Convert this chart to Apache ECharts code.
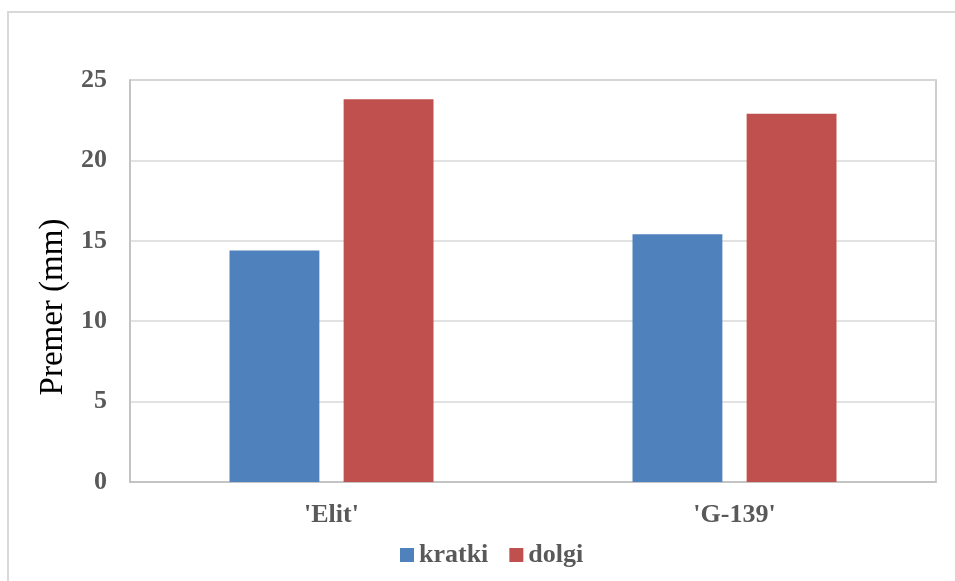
<!DOCTYPE html>
<html>
<head>
<meta charset="utf-8">
<script src="https://cdn.jsdelivr.net/npm/echarts@6/dist/echarts.min.js"></script>
<style>
  html, body { margin: 0; padding: 0; background: #fff; }
  #chart { width: 955px; height: 581px; }
</style>
</head>
<body>
<div id="chart"></div>
<script>
// Stem diameter by cultivar for short and long stems
const categories = ["'Elit'", "'G-139'"];
const seriesNames = ['kratki', 'dolgi'];
const kratki = [14.4, 15.4];
const dolgi = [23.8, 22.9];
const yTicks = { min: 0, max: 25, interval: 5 };
const yTitle = 'Premer (mm)';

const serif = '"Liberation Serif", "Times New Roman", serif';
const labelColor = '#595959';

const chart = echarts.init(document.getElementById('chart'), null, { renderer: 'canvas' });

chart.setOption({
  animation: false,
  backgroundColor: '#ffffff',
  graphic: [
    {
      type: 'rect',
      shape: { x: 8, y: 12, width: 960, height: 600 },
      style: { fill: 'none', stroke: '#d9d9d9', lineWidth: 2 },
      silent: true,
      z: -1
    },
    {
      // vertical axis title
      type: 'text',
      x: 53, y: 307,
      rotation: Math.PI / 2,
      style: {
        text: yTitle,
        fontFamily: serif, fontSize: 33, fill: '#000000',
        textAlign: 'center', textVerticalAlign: 'middle'
      },
      silent: true
    }
  ],
  grid: {
    left: 130, right: 19, top: 80, bottom: 99,
    show: true,
    borderColor: '#bfbfbf',
    borderWidth: 1.5,
    containLabel: false
  },
  legend: {
    data: seriesNames,
    top: 537,
    left: 395,
    itemWidth: 14,
    itemHeight: 14,
    itemGap: 21,
    icon: 'rect',
    textStyle: { fontFamily: serif, fontWeight: 'bold', fontSize: 26, color: labelColor }
  },
  xAxis: {
    type: 'category',
    data: categories,
    axisLine: { show: true, lineStyle: { color: '#bfbfbf', width: 1.5 } },
    axisTick: { show: false },
    axisLabel: { fontFamily: serif, fontWeight: 'bold', fontSize: 26, color: labelColor, margin: 20 }
  },
  yAxis: {
    type: 'value',
    min: yTicks.min, max: yTicks.max, interval: yTicks.interval,
    axisLine: { show: true, lineStyle: { color: '#bfbfbf', width: 1.5 } },
    axisTick: { show: false },
    splitLine: { lineStyle: { color: '#d9d9d9', width: 1.5 } },
    axisLabel: { fontFamily: serif, fontWeight: 'bold', fontSize: 26, color: labelColor, margin: 23 }
  },
  series: [
    {
      name: seriesNames[0], type: 'bar', data: kratki,
      barWidth: '22.3%', barGap: '27%',
      itemStyle: { color: '#4f81bd' }
    },
    {
      name: seriesNames[1], type: 'bar', data: dolgi,
      barWidth: '22.3%', barGap: '27%',
      itemStyle: { color: '#c0504d' }
    }
  ]
});
</script>
</body>
</html>
